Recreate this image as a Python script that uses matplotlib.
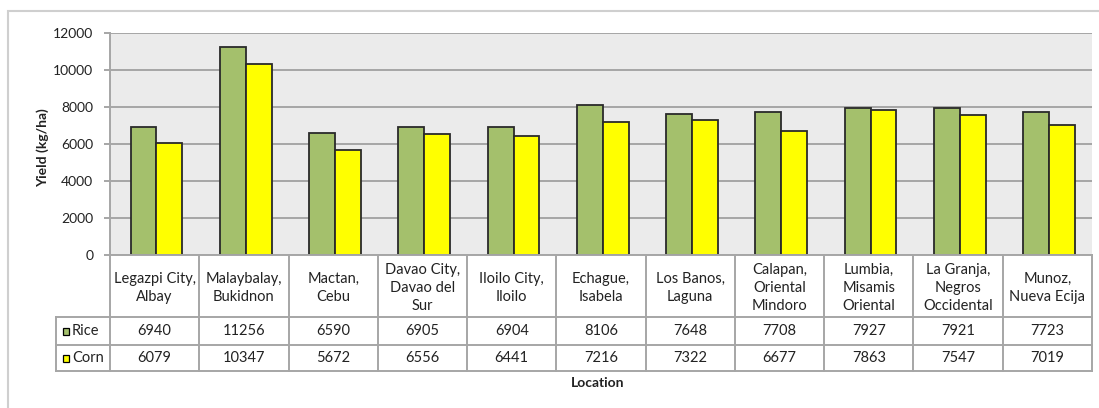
import matplotlib.pyplot as plt
from matplotlib.patches import Rectangle
import numpy as np

# Data
locations = ['Legazpi City,\nAlbay', 'Malaybalay,\nBukidnon', 'Mactan,\nCebu',
             'Davao City,\nDavao del\nSur', 'Iloilo City,\nIloilo', 'Echague,\nIsabela',
             'Los Banos,\nLaguna', 'Calapan,\nOriental\nMindoro', 'Lumbia,\nMisamis\nOriental',
             'La Granja,\nNegros\nOccidental', 'Munoz,\nNueva Ecija']
rice = [6940, 11256, 6590, 6905, 6904, 8106, 7648, 7708, 7927, 7921, 7723]
corn = [6079, 10347, 5672, 6556, 6441, 7216, 7322, 6677, 7863, 7547, 7019]
series_names = ['Rice', 'Corn']
yticks = [0, 2000, 4000, 6000, 8000, 10000, 12000]

plt.rcParams['font.family'] = ['Lato', 'DejaVu Sans']

W, H = 1099, 408
fig = plt.figure(figsize=(W / 100, H / 100), dpi=100)

def px_axes(x0, y0, x1, y1):
    # pixel box (top-left origin) -> axes
    return fig.add_axes([x0 / W, 1 - y1 / H, (x1 - x0) / W, (y1 - y0) / H])

# outer chart border
fig.patches.append(Rectangle((8 / W, -0.1), 1.2, 1 - 11 / H + 0.1, transform=fig.transFigure,
                             fill=False, edgecolor='#cfcfcf', linewidth=1.5))

plot_l, plot_r, plot_t, plot_b = 110, 1092, 33, 255
ax = px_axes(plot_l, plot_t, plot_r, plot_b)
n = len(locations)
x = np.arange(n)
w = 0.29
green = '#a4c06c'
yellow = '#ffff00'
ax.set_facecolor('#ebebeb')
ax.bar(x - w / 2 + 0.02, rice, w, color=green, edgecolor='#2a2a2a', linewidth=1.3, zorder=3)
ax.bar(x + w / 2 + 0.02, corn, w, color=yellow, edgecolor='#2a2a2a', linewidth=1.3, zorder=3)
ax.set_xlim(-0.5, n - 0.5)
ax.set_ylim(0, 12000)
ax.set_yticks(yticks)
ax.set_yticklabels([str(v) for v in yticks], fontsize=10, color='#222222')
ax.yaxis.grid(True, color='#a6a6a6', linewidth=1.4, zorder=0)
ax.set_xticks([])
for s in ['top', 'right', 'bottom']:
    ax.spines[s].set_visible(False)
ax.spines['left'].set_color('#a6a6a6')
ax.spines['left'].set_linewidth(1.4)
ax.tick_params(axis='y', length=4, color='#a6a6a6', width=1.4, pad=8)
fig.text(43 / W, 1 - 148 / H, 'Yield (kg/ha)', rotation=90, ha='center', va='center',
         fontsize=10, fontweight='bold', color='#222222')

# data table below the plot
unit = (plot_r - plot_l) / n
tab_l = 56
row_ys = [255, 317, 345, 371]
tax = px_axes(tab_l, row_ys[0], plot_r, row_ys[-1])
tax.set_xlim(-0.5 - (plot_l - tab_l) / unit, n - 0.5)
tax.set_ylim(row_ys[-1], row_ys[0])
tax.axis('off')
lc = '#a6a6a6'
lw = 1.4
for i in range(n + 1):
    tax.plot([i - 0.5, i - 0.5], [row_ys[0], row_ys[-1]], color=lc, lw=lw, clip_on=False)
xl = tax.get_xlim()[0]
tax.plot([xl, xl], [row_ys[1], row_ys[-1]], color=lc, lw=lw, clip_on=False)
tax.plot([-0.5, n - 0.5], [row_ys[0], row_ys[0]], color=lc, lw=lw, clip_on=False)
for yy in row_ys[1:]:
    tax.plot([xl, n - 0.5], [yy, yy], color=lc, lw=lw, clip_on=False)

fs = 10.5
for i, loc in enumerate(locations):
    tax.text(i, (row_ys[0] + row_ys[1]) / 2 + 2, loc, ha='center', va='center',
             fontsize=fs, color='#222222', linespacing=1.38)
for r, (vals, name, col) in enumerate(zip([rice, corn], series_names, [green, yellow])):
    yc = (row_ys[r + 1] + row_ys[r + 2]) / 2
    for i, v in enumerate(vals):
        tax.text(i, yc, str(v), ha='center', va='center', fontsize=fs, color='#222222')
    tax.add_patch(Rectangle((xl + 7 / unit, yc - 3.5), 6 / unit, 7, facecolor=col,
                            edgecolor='black', linewidth=0.9, clip_on=False))
    tax.text(xl + 16 / unit, yc, name, ha='left', va='center', fontsize=fs, color='#222222')

fig.text(598 / W, 1 - 383 / H, 'Location', ha='center', va='center', fontsize=10,
         fontweight='bold', color='#222222')

fig.savefig('out.png', dpi=100)
